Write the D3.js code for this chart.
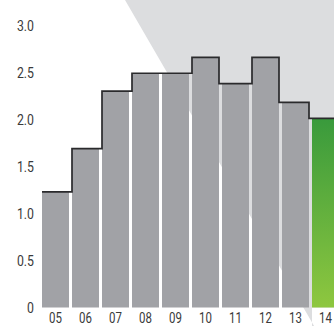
<!DOCTYPE html>
<html>
<head>
<meta charset="utf-8">
<script src="https://cdn.jsdelivr.net/npm/d3@7"></script>
<style>
  html, body { margin: 0; padding: 0; background: #fff; }
  svg { display: block; }
  .tick-label { font-family: Roboto, "Liberation Sans", sans-serif; font-size: 15px; fill: #3a3a3a; }
  .x-label { font-size: 14px; }
</style>
</head>
<body>
<svg id="chart" width="334" height="326"></svg>
<script>
// Yearly values, 2005–2014
const years = ["05", "06", "07", "08", "09", "10", "11", "12", "13", "14"];
const values = [1.23, 1.69, 2.30, 2.49, 2.49, 2.66, 2.38, 2.66, 2.18, 2.01];
const yTicks = [0, 0.5, 1.0, 1.5, 2.0, 2.5, 3.0];
const yTickLabels = ["0", "0.5", "1.0", "1.5", "2.0", "2.5", "3.0"];
const highlightYear = "14";

const W = 334, H = 326;
const narrow = 0.82; // horizontal squeeze for a condensed look
const svg = d3.select("#chart");

const x = d3.scaleBand()
  .domain(years)
  .range([40.5, 340.5])
  .paddingInner(0.1)
  .paddingOuter(0.05);

const y = d3.scaleLinear()
  .domain([0, 3])
  .range([307.5, 25.3]);

// Gradient for the highlighted year
const defs = svg.append("defs");
const grad = defs.append("linearGradient")
  .attr("id", "greenGrad")
  .attr("gradientUnits", "userSpaceOnUse")
  .attr("x1", 0).attr("x2", 0)
  .attr("y1", y(values[years.indexOf(highlightYear)]))
  .attr("y2", y(0));
grad.append("stop").attr("offset", 0).attr("stop-color", "#399a3c");
grad.append("stop").attr("offset", 1).attr("stop-color", "#8ec73f");

// Diagonal grey backdrop panel
const slope = 0.58, x0 = 125;
const panel = d3.path();
panel.moveTo(x0, 0);
panel.lineTo(W, 0);
panel.lineTo(W, y(0));
panel.lineTo(x(highlightYear), y(0));
panel.lineTo(x(highlightYear), H);
panel.lineTo(x0 + slope * H, H);
panel.closePath();
svg.append("path")
  .attr("d", panel.toString())
  .attr("fill", "#dcdddf");

// Bars
svg.append("g")
  .selectAll("rect")
  .data(years)
  .join("rect")
  .attr("x", d => x(d))
  .attr("y", (d, i) => y(values[i]))
  .attr("width", x.bandwidth())
  .attr("height", (d, i) => y(0) - y(values[i]))
  .attr("fill", d => d === highlightYear ? "url(#greenGrad)" : "#a1a2a6");

// Step outline along the bar tops
const bw = x.bandwidth();
const step = d3.path();
years.forEach((d, i) => {
  const left = x(d), right = left + bw, top = y(values[i]);
  if (i === 0) {
    step.moveTo(left, top);
  }
  if (i < years.length - 1) {
    const nextLeft = x(years[i + 1]);
    const nextTop = y(values[i + 1]);
    if (values[i + 1] > values[i]) {
      step.lineTo(nextLeft, top);
      step.lineTo(nextLeft, nextTop);
    } else if (values[i + 1] < values[i]) {
      step.lineTo(right, top);
      step.lineTo(right, nextTop);
    } else {
      step.lineTo(nextLeft, top);
    }
  } else {
    step.lineTo(right, top);
  }
});
svg.append("path")
  .attr("d", step.toString())
  .attr("fill", "none")
  .attr("stroke", "#2a2a2c")
  .attr("stroke-width", 1.7)
  .attr("stroke-linejoin", "miter");

// Y axis labels
const yAxis = d3.axisLeft(y)
  .tickValues(yTicks)
  .tickFormat((d, i) => yTickLabels[i])
  .tickSize(0)
  .tickPadding(0);
const gy = svg.append("g")
  .attr("transform", "translate(34,0)")
  .call(yAxis);
gy.select(".domain").remove();
gy.selectAll("text")
  .attr("class", "tick-label")
  .attr("font-family", null)
  .attr("font-size", null)
  .attr("fill", null)
  .attr("x", 0)
  .attr("dy", "0.36em")
  .attr("transform", `scale(${narrow},1)`);

// X axis labels
const xAxis = d3.axisBottom(x)
  .tickSize(0)
  .tickPadding(0);
const gx = svg.append("g")
  .attr("transform", `translate(0,${y(0)})`)
  .call(xAxis);
gx.select(".domain").remove();
gx.selectAll("text")
  .attr("class", "tick-label x-label")
  .attr("font-family", null)
  .attr("font-size", null)
  .attr("fill", null)
  .attr("y", 10)
  .attr("dy", "0.36em")
  .attr("transform", `scale(${narrow},1)`);
</script>
</body>
</html>
